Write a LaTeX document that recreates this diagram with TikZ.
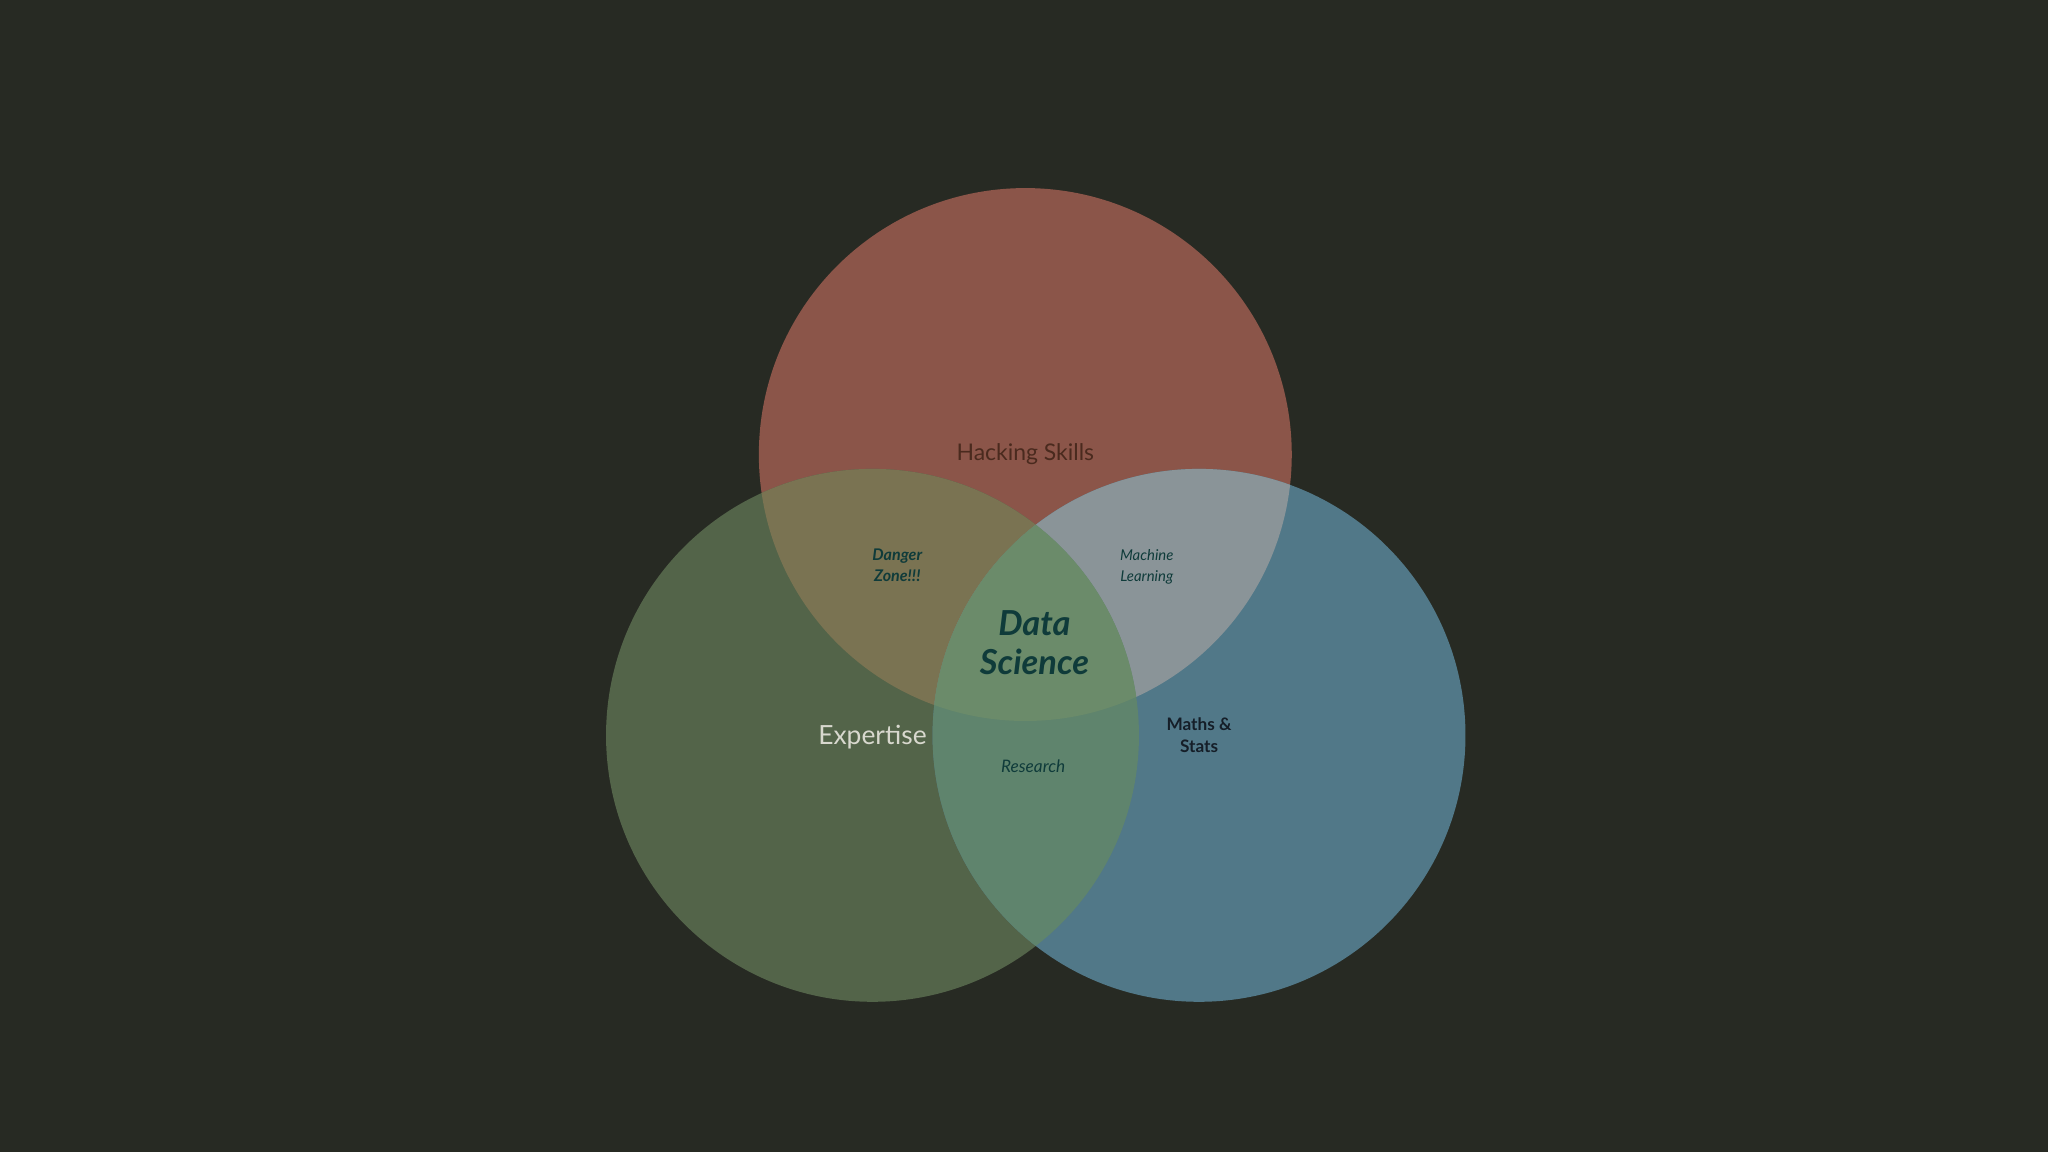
\documentclass[tikz,border=0pt]{standalone}
\usepackage{fontspec}
\setmainfont{Lato}
\definecolor{bg}{HTML}{272A23}
\definecolor{cred}{HTML}{8B5549}
\definecolor{cgreen}{HTML}{536449}
\definecolor{cblue}{HTML}{517888}
\definecolor{crg}{HTML}{7A7352}
\definecolor{crb}{HTML}{8A9498}
\definecolor{cgb}{HTML}{5F846D}
\definecolor{call}{HTML}{6B8B6A}
\definecolor{tdark}{HTML}{0F3B3A}
\definecolor{tbrown}{HTML}{4A2A1E}
\definecolor{tlight}{HTML}{D8D8CE}
\definecolor{tnavy}{HTML}{151E28}
\begin{document}
\begin{tikzpicture}[x=0.02cm,y=-0.02cm,
  lbl/.style={align=center,inner sep=0pt,font=\fontsize{#1}{#1}\selectfont}]
\fill[bg] (0,0) rectangle (1568,882);
\useasboundingbox (0,0) rectangle (1568,882);
\def\R{204}
\coordinate (r) at (785,348);
\coordinate (g) at (668,563);
\coordinate (b) at (918,563);
\fill[cred] (r) circle (\R);
\fill[cgreen] (g) circle (\R);
\fill[cblue] (b) circle (\R);
\begin{scope}\clip (r) circle (\R); \fill[crg] (g) circle (\R); \end{scope}
\begin{scope}\clip (r) circle (\R); \fill[crb] (b) circle (\R); \end{scope}
\begin{scope}\clip (g) circle (\R); \fill[cgb] (b) circle (\R); \end{scope}
\begin{scope}\clip (r) circle (\R); \clip (g) circle (\R); \fill[call] (b) circle (\R); \end{scope}
\node[lbl=10, text=tbrown] (hs) at (785,348) {Hacking Skills};
\node[lbl=11.5, text=tlight] (ex) at (668,564) {Expertise};
\node[lbl=7.5, text=tnavy, font=\bfseries\fontsize{7.5}{8.5}\selectfont] (ms) at (918,563) {Maths \&\\[1pt]Stats};
\node[lbl=7, text=tdark, font=\bfseries\itshape\fontsize{7}{8}\selectfont] (dz) at (687,433) {Danger\\[1pt]Zone!!!};
\node[lbl=6.5, text=tdark, font=\itshape\fontsize{6.5}{8}\selectfont] (ml) at (878,434) {Machine\\[1pt]Learning};
\node[lbl=7.5, text=tdark, font=\itshape\fontsize{7.5}{8}\selectfont] (rs) at (791,587) {Research};
\node[lbl=16, text=tdark, font=\bfseries\itshape\fontsize{15}{17}\selectfont] (ds) at (792,492) {Data\\Science};
\end{tikzpicture}
\end{document}
